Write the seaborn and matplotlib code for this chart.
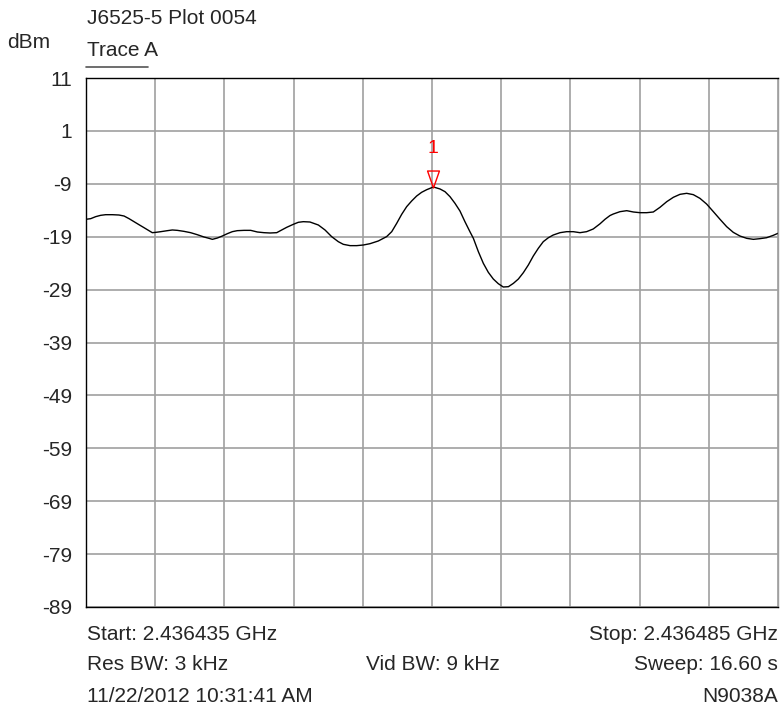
import numpy as np
import pandas as pd
import matplotlib
matplotlib.use("Agg")
import matplotlib.pyplot as plt
import matplotlib.transforms as mtransforms
from matplotlib.path import Path
import seaborn as sns

# ---- data (frequency offset from start, kHz ; level dBm) ----
freq_khz = [0.00, 0.34, 0.70, 1.06, 1.42, 1.90, 2.38, 2.75, 3.11, 3.47, 3.83, 4.19,
            4.55, 4.79, 5.03, 5.40, 5.88, 6.24, 6.60, 7.08, 7.56, 8.04, 8.53, 8.89,
            9.13, 9.49, 9.85, 10.21, 10.57, 10.93, 11.42, 11.90, 12.38, 12.86,
            13.30, 13.78, 14.14, 14.50, 14.98, 15.34, 15.70, 16.18, 16.79, 17.27,
            17.75, 18.23, 18.59, 19.08, 19.56, 20.04, 20.52, 21.12, 21.72, 22.09,
            22.45, 22.81, 23.17, 23.53, 23.89, 24.25, 24.62, 24.98, 25.10, 25.58,
            25.94, 26.30, 26.66, 27.02, 27.38, 27.74, 27.99, 28.35, 28.71, 29.07,
            29.43, 29.79, 30.15, 30.52, 30.88, 31.24, 31.60, 31.96, 32.32, 32.68,
            33.04, 33.41, 33.76, 34.25, 34.73, 35.21, 35.69, 36.17, 36.65, 37.14,
            37.50, 37.86, 38.10, 38.58, 39.07, 39.55, 40.03, 40.51, 40.99, 41.47,
            41.96, 42.44, 42.92, 43.40, 43.88, 44.36, 44.84, 45.33, 45.81, 46.29,
            46.77, 47.25, 47.74, 48.22, 48.70, 49.18, 49.66, 50.00]
level_dbm = [-15.71, -15.59, -15.21, -14.96, -14.84, -14.84, -14.90, -15.09, -15.59,
             -16.16, -16.73, -17.29, -17.86, -18.24, -18.18, -18.05, -17.86, -17.73,
             -17.80, -17.99, -18.24, -18.62, -19.06, -19.31, -19.50, -19.25, -18.87,
             -18.43, -18.05, -17.86, -17.80, -17.80, -18.11, -18.24, -18.30, -18.24,
             -17.73, -17.23, -16.66, -16.28, -16.16, -16.22, -16.79, -17.73, -18.99,
             -19.94, -20.44, -20.69, -20.69, -20.57, -20.32, -19.81, -18.99, -18.05,
             -16.47, -14.77, -13.32, -12.25, -11.31, -10.61, -10.11, -9.73, -9.60,
             -9.98, -10.49, -11.43, -12.69, -14.14, -16.16, -18.05, -19.31, -21.83,
             -24.04, -25.74, -27.00, -27.88, -28.51, -28.45, -27.82, -27.00, -25.80,
             -24.35, -22.65, -21.20, -19.94, -19.19, -18.68, -18.24, -18.05, -18.05,
             -18.24, -18.05, -17.54, -16.56, -15.71, -15.00, -14.71, -14.27, -14.08,
             -14.33, -14.46, -14.46, -14.33, -13.45, -12.38, -11.55, -10.99, -10.80,
             -11.05, -11.75, -12.82, -14.27, -15.71, -17.10, -18.18, -18.87, -19.31,
             -19.50, -19.37, -19.19, -18.74, -18.36]
y_ticks = [11, 1, -9, -19, -29, -39, -49, -59, -69, -79, -89]

title = "J6525-5 Plot 0054"
unit_label = "dBm"
trace_label = "Trace A"
marker_label = "1"
footer_left = ["Start: 2.436435 GHz", "Res BW: 3 kHz", "11/22/2012 10:31:41 AM"]
footer_mid = ["", "Vid BW: 9 kHz", ""]
footer_right = ["Stop: 2.436485 GHz", "Sweep: 16.60 s", "N9038A"]

df = pd.DataFrame({"freq": freq_khz, "level": level_dbm})

sns.set_style("white")
plt.rcParams["font.family"] = ["Liberation Sans", "DejaVu Sans"]
FS = 15

fig = plt.figure(figsize=(7.8, 7.15), dpi=100)
ax = fig.add_axes([86 / 780, 1 - 607 / 715, (778 - 86) / 780, (607 - 78) / 715])

sns.lineplot(data=df, x="freq", y="level", ax=ax, color="black", linewidth=1.0,
             estimator=None, sort=False)

ax.set_xlim(0, 50)
ax.set_ylim(y_ticks[-1], y_ticks[0])
ax.set_xticks(np.linspace(0, 50, 11))
ax.set_yticks(y_ticks)
ax.set_xticklabels([])
ax.set_yticklabels([str(t) for t in y_ticks], fontsize=FS)
ax.tick_params(axis="both", length=0, pad=10)
ax.grid(True, color="#a0a0a0", linewidth=1.2)
ax.set_xlabel("")
ax.set_ylabel("")
for side, sp in ax.spines.items():
    sp.set_visible(True)
    sp.set_color("black")
    sp.set_linewidth(1.0)
ax.spines["right"].set_color("#a0a0a0")

# marker at peak
i_pk = int(np.argmax(level_dbm))
px, py = freq_khz[i_pk], level_dbm[i_pk]
ms = 12.2
tri = Path([(0, -1), (-0.7, 1), (0.7, 1), (0, -1)],
           [Path.MOVETO, Path.LINETO, Path.LINETO, Path.CLOSEPOLY])
off = mtransforms.offset_copy(ax.transData, fig=fig, x=0, y=ms / 2, units="points")
ax.plot([px], [py], marker=tri, markersize=ms, markerfacecolor="none",
        markeredgecolor="red", markeredgewidth=1.0, linestyle="none",
        transform=off, clip_on=False)
ax.annotate(marker_label, (px, py), xytext=(0, 28), textcoords="offset points",
            ha="center", va="center", color="red", fontsize=FS - 1)

# header texts
def fx(x):
    return x / 780
def fy(y):
    return 1 - y / 715

fig.text(fx(87), fy(19), title, fontsize=FS, ha="left", va="center")
fig.text(fx(7), fy(43), unit_label, fontsize=FS, ha="left", va="center")
fig.text(fx(87), fy(50), trace_label, fontsize=FS, ha="left", va="center")
fig.add_artist(plt.Line2D([fx(86), fx(148)], [fy(67), fy(67)], color="#555555",
                          linewidth=1.2))

rows_y = [634, 665, 697]
for yy, l, m, r in zip(rows_y, footer_left, footer_mid, footer_right):
    fig.text(fx(87), fy(yy), l, fontsize=FS, ha="left", va="center")
    if m:
        fig.text(fx(366), fy(yy), m, fontsize=FS, ha="left", va="center")
    fig.text(fx(778), fy(yy), r, fontsize=FS, ha="right", va="center")

fig.savefig("out.png", dpi=100, facecolor="white")
